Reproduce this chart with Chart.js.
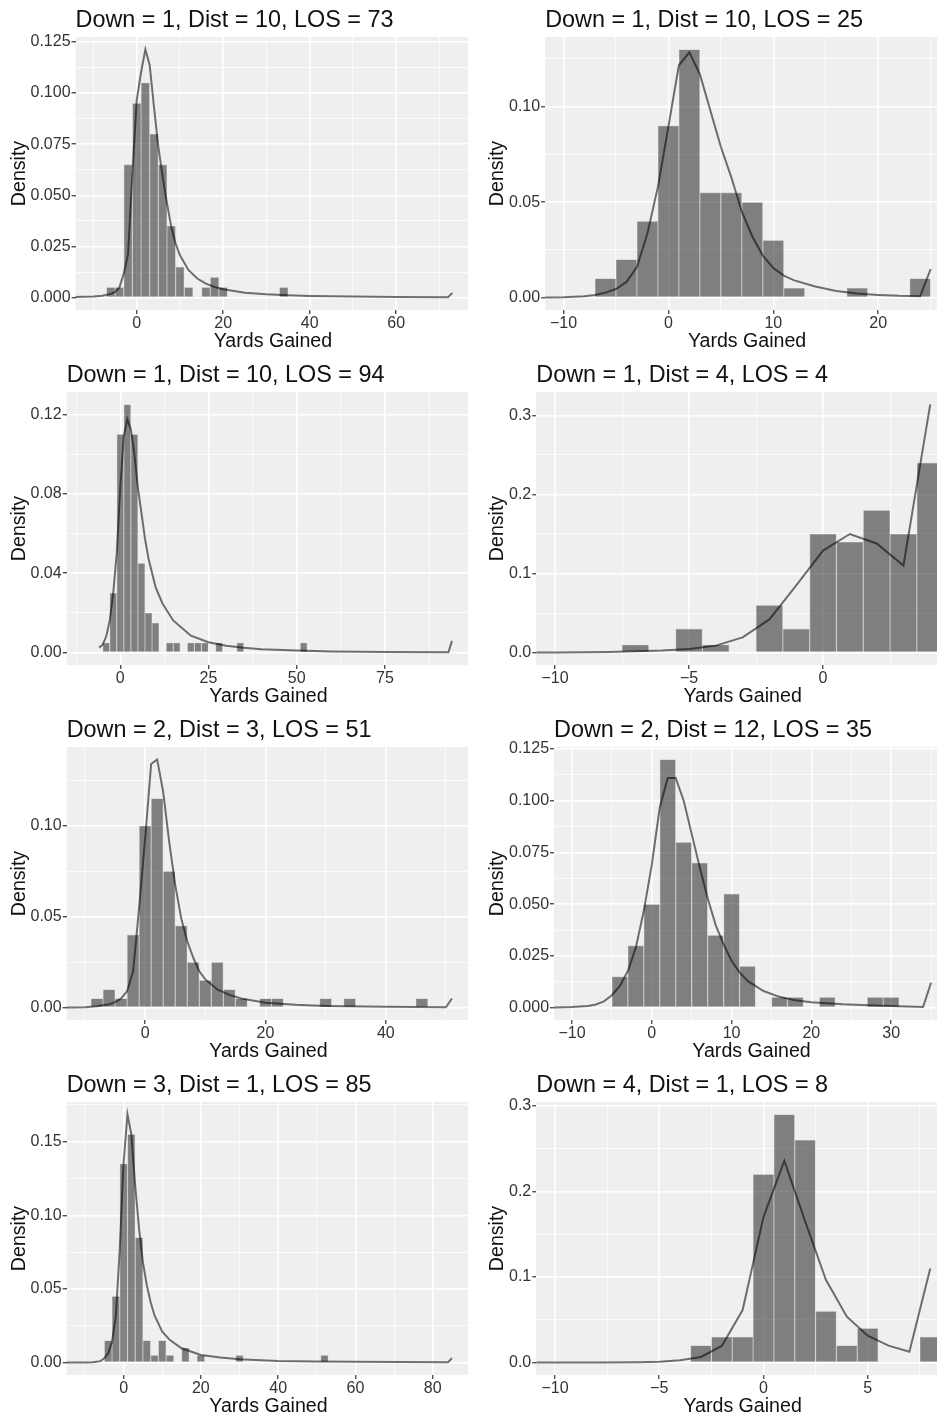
<!DOCTYPE html>
<html>
<head>
<meta charset="utf-8">
<script src="https://cdn.jsdelivr.net/npm/chart.js@4.4.0/dist/chart.umd.min.js"></script>
<style>
    body { margin: 0; background: #fff; width: 937px; height: 1416px; overflow: hidden; position: relative; }
    .cell { position: absolute; height: 354px; overflow: hidden; }
    .cell canvas { position: absolute; left: 0; top: 0; }
</style>
</head>
<body>
<script>
const titles = [
    'Down = 1, Dist = 10, LOS = 73', 'Down = 1, Dist = 10, LOS = 25',
    'Down = 1, Dist = 10, LOS = 94', 'Down = 1, Dist = 4, LOS = 4',
    'Down = 2, Dist = 3, LOS = 51', 'Down = 2, Dist = 12, LOS = 35',
    'Down = 3, Dist = 1, LOS = 85', 'Down = 4, Dist = 1, LOS = 8'
];
const losValues = [73, 25, 94, 4, 51, 35, 85, 8];
const yardsLow = -10;

// panel 1
const p1BinCenters = [-6, -4, -2, 0, 2, 4, 6, 8, 10, 12, 16, 18, 20, 34];
const p1BinDensity = [0.005, 0.005, 0.065, 0.095, 0.105, 0.08, 0.065, 0.035, 0.015, 0.005, 0.005, 0.01, 0.005, 0.005];
const p1LineX = [-15, -10, -8, -6, -5, -4, -3, -2, -1, 0, 1, 2, 3, 4, 5, 6, 7, 8, 9, 10, 12, 14, 16, 18, 20, 25, 30, 35, 40, 50, 60, 72, 73];
const p1LineY = [0.0002, 0.0005, 0.0009, 0.0018, 0.0028, 0.005, 0.0117, 0.0215, 0.0606, 0.0965, 0.110, 0.1213, 0.1136, 0.093, 0.0737, 0.059, 0.046, 0.0345, 0.0264, 0.0207, 0.0134, 0.0093, 0.0068, 0.0052, 0.0041, 0.0024, 0.0016, 0.0011, 0.0008, 0.0005, 0.0003, 0.0002, 0.0023];
const p1XTicks = [0, 20, 40, 60];
const p1YTicks = [0, 0.025, 0.05, 0.075, 0.1, 0.125];
const p1YLabels = ['0.000', '0.025', '0.050', '0.075', '0.100', '0.125'];

// panel 2
const p2BinCenters = [-6, -4, -2, 0, 2, 4, 6, 8, 10, 12, 18, 24];
const p2BinDensity = [0.01, 0.02, 0.04, 0.09, 0.13, 0.055, 0.055, 0.05, 0.03, 0.005, 0.005, 0.01];
const p2LineX = [-14, -12, -10, -8, -7, -6, -5, -4, -3, -2, -1, 0, 1, 2, 3, 4, 5, 6, 7, 8, 9, 10, 11, 12, 14, 16, 18, 20, 22, 24, 25];
const p2LineY = [0, 0.0001, 0.0002, 0.0007, 0.0014, 0.0026, 0.0045, 0.0082, 0.016, 0.0336, 0.058, 0.0895, 0.1217, 0.1285, 0.117, 0.098, 0.079, 0.063, 0.045, 0.032, 0.022, 0.0155, 0.0115, 0.009, 0.0058, 0.0035, 0.0021, 0.0014, 0.0009, 0.0007, 0.0149];
const p2XTicks = [-10, 0, 10, 20];
const p2YTicks = [0, 0.05, 0.1];
const p2YLabels = ['0.00', '0.05', '0.10'];

// panel 3
const p3BinCenters = [-4, -2, 0, 2, 4, 6, 8, 10, 14, 16, 20, 22, 24, 28, 34, 52];
const p3BinDensity = [0.005, 0.03, 0.11, 0.125, 0.11, 0.045, 0.02, 0.015, 0.005, 0.005, 0.005, 0.005, 0.005, 0.005, 0.005, 0.005];
const p3LineX = [-6, -5, -4, -3, -2, -1, 0, 1, 2, 3, 4, 5, 6, 7, 8, 10, 12, 15, 20, 25, 30, 35, 40, 50, 60, 75, 93, 94];
const p3LineY = [0.0025, 0.004, 0.008, 0.016, 0.03, 0.05, 0.083, 0.109, 0.1175, 0.1125, 0.0999, 0.083, 0.0703, 0.0574, 0.0474, 0.033, 0.0246, 0.0162, 0.0085, 0.0052, 0.0035, 0.0024, 0.0017, 0.001, 0.0006, 0.0003, 0.0002, 0.0059];
const p3XTicks = [0, 25, 50, 75];
const p3YTicks = [0, 0.04, 0.08, 0.12];
const p3YLabels = ['0.00', '0.04', '0.08', '0.12'];

// panel 4
const p4BinCenters = [-7, -5, -4, -2, -1, 0, 1, 2, 3, 4];
const p4BinDensity = [0.01, 0.03, 0.01, 0.06, 0.03, 0.15, 0.14, 0.18, 0.15, 0.24];
const p4LineX = [-12, -10, -8, -7, -6, -5, -4, -3, -2, -1, 0, 1, 2, 3, 4];
const p4LineY = [0, 0.0002, 0.0008, 0.0017, 0.0025, 0.0046, 0.0088, 0.0193, 0.042, 0.085, 0.129, 0.15, 0.138, 0.11, 0.3139];
const p4XTicks = [-10, -5, 0];
const p4YTicks = [0, 0.1, 0.2, 0.3];
const p4YLabels = ['0.0', '0.1', '0.2', '0.3'];

// panel 5
const p5BinCenters = [-8, -6, -4, -2, 0, 2, 4, 6, 8, 10, 12, 14, 16, 20, 22, 30, 34, 46];
const p5BinDensity = [0.005, 0.01, 0.005, 0.04, 0.10, 0.115, 0.075, 0.045, 0.025, 0.015, 0.025, 0.01, 0.005, 0.005, 0.005, 0.005, 0.005, 0.005];
const p5LineX = [-14, -12, -10, -8, -6, -5, -4, -3, -2, -1, 0, 1, 2, 3, 4, 5, 6, 7, 8, 9, 10, 12, 14, 16, 20, 25, 30, 40, 50, 51];
const p5LineY = [0, 0, 0.0002, 0.0007, 0.0018, 0.003, 0.005, 0.009, 0.02, 0.055, 0.093, 0.134, 0.1365, 0.1186, 0.091, 0.0675, 0.049, 0.0365, 0.0274, 0.02, 0.0155, 0.01, 0.007, 0.005, 0.0027, 0.0015, 0.0009, 0.0004, 0.0002, 0.005];
const p5XTicks = [0, 20, 40];
const p5YTicks = [0, 0.05, 0.1];
const p5YLabels = ['0.00', '0.05', '0.10'];

// panel 6
const p6BinCenters = [-4, -2, 0, 2, 4, 6, 8, 10, 12, 16, 18, 22, 28, 30];
const p6BinDensity = [0.015, 0.03, 0.05, 0.12, 0.08, 0.07, 0.035, 0.055, 0.02, 0.005, 0.005, 0.005, 0.005, 0.005];
const p6LineX = [-14, -12, -10, -8, -7, -6, -5, -4, -3, -2, -1, 0, 1, 2, 3, 4, 5, 6, 7, 8, 9, 10, 11, 12, 14, 16, 18, 20, 24, 28, 32, 34, 35];
const p6LineY = [0, 0.0001, 0.0003, 0.0008, 0.0015, 0.003, 0.006, 0.0105, 0.0177, 0.029, 0.0468, 0.069, 0.0968, 0.111, 0.111, 0.1, 0.084, 0.068, 0.053, 0.04, 0.0306, 0.0226, 0.017, 0.0129, 0.008, 0.0052, 0.0035, 0.0026, 0.0016, 0.001, 0.0005, 0.0003, 0.012];
const p6XTicks = [-10, 0, 10, 20, 30];
const p6YTicks = [0, 0.025, 0.05, 0.075, 0.1, 0.125];
const p6YLabels = ['0.000', '0.025', '0.050', '0.075', '0.100', '0.125'];

// panel 7
const p7BinCenters = [-4, -2, 0, 2, 4, 6, 8, 10, 12, 16, 20, 30, 52];
const p7BinDensity = [0.015, 0.045, 0.135, 0.155, 0.085, 0.015, 0.005, 0.015, 0.005, 0.01, 0.005, 0.005, 0.005];
const p7LineX = [-16, -12, -10, -8, -6, -5, -4, -3, -2, -1, 0, 1, 2, 3, 4, 5, 6, 7, 8, 10, 12, 15, 20, 25, 30, 40, 50, 60, 84, 85];
const p7LineY = [0, 0, 0.0001, 0.0002, 0.001, 0.003, 0.0063, 0.014, 0.032, 0.077, 0.136, 0.1685, 0.155, 0.12, 0.091, 0.068, 0.0525, 0.041, 0.032, 0.021, 0.0153, 0.0097, 0.0052, 0.0034, 0.0023, 0.0011, 0.0007, 0.0005, 0.0002, 0.003];
const p7XTicks = [0, 20, 40, 60, 80];
const p7YTicks = [0, 0.05, 0.1, 0.15];
const p7YLabels = ['0.00', '0.05', '0.10', '0.15'];

// panel 8
const p8BinCenters = [-3, -2, -1, 0, 1, 2, 3, 4, 5, 8];
const p8BinDensity = [0.02, 0.03, 0.03, 0.22, 0.29, 0.26, 0.06, 0.02, 0.04, 0.03];
const p8LineX = [-12, -10, -8, -6, -5, -4, -3, -2, -1, 0, 1, 2, 3, 4, 5, 6, 7, 8];
const p8LineY = [0, 0, 0.0002, 0.0005, 0.001, 0.0027, 0.0066, 0.0194, 0.0614, 0.17, 0.236, 0.165, 0.0964, 0.0536, 0.0315, 0.0198, 0.0128, 0.11];
const p8XTicks = [-10, -5, 0, 5];
const p8YTicks = [0, 0.1, 0.2, 0.3];
const p8YLabels = ['0.0', '0.1', '0.2', '0.3'];

const panels = [
    { bins: p1BinCenters, dens: p1BinDensity, lx: p1LineX, ly: p1LineY, xt: p1XTicks, yt: p1YTicks, yl: p1YLabels },
    { bins: p2BinCenters, dens: p2BinDensity, lx: p2LineX, ly: p2LineY, xt: p2XTicks, yt: p2YTicks, yl: p2YLabels },
    { bins: p3BinCenters, dens: p3BinDensity, lx: p3LineX, ly: p3LineY, xt: p3XTicks, yt: p3YTicks, yl: p3YLabels },
    { bins: p4BinCenters, dens: p4BinDensity, lx: p4LineX, ly: p4LineY, xt: p4XTicks, yt: p4YTicks, yl: p4YLabels },
    { bins: p5BinCenters, dens: p5BinDensity, lx: p5LineX, ly: p5LineY, xt: p5XTicks, yt: p5YTicks, yl: p5YLabels },
    { bins: p6BinCenters, dens: p6BinDensity, lx: p6LineX, ly: p6LineY, xt: p6XTicks, yt: p6YTicks, yl: p6YLabels },
    { bins: p7BinCenters, dens: p7BinDensity, lx: p7LineX, ly: p7LineY, xt: p7XTicks, yt: p7YTicks, yl: p7YLabels },
    { bins: p8BinCenters, dens: p8BinDensity, lx: p8LineX, ly: p8LineY, xt: p8XTicks, yt: p8YTicks, yl: p8YLabels }
];

Chart.defaults.font.family = '"Liberation Sans", Arial, sans-serif';

const FONT = '"Liberation Sans", Arial, sans-serif';
const PANEL_BG = '#eef0ef';
const TICK_TEXT = '#333333';
const cols = [
    { left: 0, cellWidth: 468, canvasWidth: 472, padLeft: 29.5, padRight: 1.7, yTitleX: 25 },
    { left: 468, cellWidth: 483, canvasWidth: 483, padLeft: 40, padRight: 2, yTitleX: 35 }
];
const rowTops = [0, 355, 710, 1065];

// major ticks plus the half-way minor ones inside the range
function withMinor(majors, lo, hi) {
    const step = majors[1] - majors[0];
    const out = [];
    for (let v = majors[0] - step; v <= majors[majors.length - 1] + step + 1e-9; v += step / 2) {
        if (v >= lo - 1e-9 && v <= hi + 1e-9) out.push(+v.toFixed(6));
    }
    return out;
}

function isMajor(v, majors) {
    return majors.some(m => Math.abs(m - v) < 1e-9);
}

function fmtYards(v) {
    return v < 0 ? '\u2212' + Math.abs(v) : String(v);
}

const panelText = {
    id: 'panelText',
    beforeDraw(chart, args, opts) {
        const a = chart.chartArea;
        const ctx = chart.ctx;
        ctx.save();
        ctx.fillStyle = PANEL_BG;
        ctx.fillRect(a.left, a.top, a.right - a.left, a.bottom - a.top);
        ctx.restore();
    },
    afterDraw(chart, args, opts) {
        const a = chart.chartArea;
        const ctx = chart.ctx;
        ctx.save();
        ctx.fillStyle = '#111111';
        ctx.textBaseline = 'alphabetic';

        ctx.font = '23.4px ' + FONT;
        ctx.textAlign = 'left';
        ctx.fillText(opts.title, a.left, 26.5);

        ctx.font = '19.6px ' + FONT;
        ctx.textAlign = 'center';
        ctx.fillText('Yards Gained', (a.left + a.right) / 2, 346.5);

        ctx.translate(opts.yTitleX, (a.top + a.bottom) / 2);
        ctx.rotate(-Math.PI / 2);
        ctx.fillText('Density', 0, 0);
        ctx.restore();
    }
};

function makePanel(p, i) {
    const col = cols[i % 2];
    const top = rowTops[Math.floor(i / 2)];

    const cell = document.createElement('div');
    cell.className = 'cell';
    cell.style.left = col.left + 'px';
    cell.style.top = top + 'px';
    cell.style.width = col.cellWidth + 'px';
    const canvas = document.createElement('canvas');
    canvas.width = col.canvasWidth;
    canvas.height = 354;
    cell.appendChild(canvas);
    document.body.appendChild(cell);

    const los = losValues[i];
    const span = los - yardsLow;
    const xMin = yardsLow - 0.05 * span;
    const xMax = los + 0.05 * span;
    const peak = Math.max(...p.dens, ...p.ly);
    const yMin = -0.05 * peak;
    const yMax = 1.05 * peak;

    const xAll = withMinor(p.xt, xMin, xMax);
    const yAll = withMinor(p.yt, yMin, yMax);

    new Chart(canvas, {
        type: 'bar',
        data: {
            datasets: [
                {
                    type: 'line',
                    data: p.lx.map((x, k) => ({ x: x, y: p.ly[k] })),
                    borderColor: 'rgba(0,0,0,0.55)',
                    borderWidth: 2,
                    pointRadius: 0,
                    tension: 0,
                    clip: 0,
                    order: 0
                },
                {
                    type: 'bar',
                    data: p.bins.map((x, k) => ({ x: x, y: p.dens[k] })),
                    backgroundColor: 'rgba(0,0,0,0.47)',
                    borderColor: 'rgba(0,0,0,0.3)',
                    borderWidth: 0.6,
                    inflateAmount: 0,
                    barPercentage: 1,
                    categoryPercentage: 1,
                    order: 1
                }
            ]
        },
        options: {
            responsive: false,
            animation: false,
            devicePixelRatio: 1,
            events: [],
            layout: { padding: { top: 37, left: col.padLeft, right: col.padRight, bottom: 0 } },
            plugins: {
                legend: { display: false },
                tooltip: { enabled: false },
                panelText: { title: titles[i], yTitleX: col.yTitleX }
            },
            scales: {
                x: {
                    type: 'linear',
                    min: xMin,
                    max: xMax,
                    offset: false,
                    border: { display: false },
                    grid: {
                        offset: false,
                        color: '#ffffff',
                        lineWidth: ctx => isMajor(ctx.tick.value, p.xt) ? 1.5 : 0.75,
                        tickColor: ctx => isMajor(ctx.tick.value, p.xt) ? '#333333' : 'rgba(0,0,0,0)',
                        tickLength: 4,
                        tickWidth: 1.2
                    },
                    ticks: {
                        autoSkip: false,
                        maxRotation: 0,
                        padding: 0,
                        color: TICK_TEXT,
                        font: { size: 16 },
                        callback: v => isMajor(v, p.xt) ? fmtYards(v) : ''
                    },
                    afterBuildTicks: s => { s.ticks = xAll.map(v => ({ value: v })); },
                    afterFit: s => { s.height = 44; }
                },
                y: {
                    type: 'linear',
                    min: yMin,
                    max: yMax,
                    border: { display: false },
                    grid: {
                        color: '#ffffff',
                        lineWidth: ctx => isMajor(ctx.tick.value, p.yt) ? 1.5 : 0.75,
                        tickColor: ctx => isMajor(ctx.tick.value, p.yt) ? '#333333' : 'rgba(0,0,0,0)',
                        tickLength: 4,
                        tickWidth: 1.2
                    },
                    ticks: {
                        autoSkip: false,
                        padding: 1,
                        color: TICK_TEXT,
                        font: { size: 16 },
                        callback: v => {
                            const k = p.yt.findIndex(m => Math.abs(m - v) < 1e-9);
                            return k >= 0 ? p.yl[k] : '';
                        }
                    },
                    afterBuildTicks: s => { s.ticks = yAll.map(v => ({ value: v })); }
                }
            }
        },
        plugins: [panelText]
    });
}

panels.forEach(makePanel);
</script>
</body>
</html>
